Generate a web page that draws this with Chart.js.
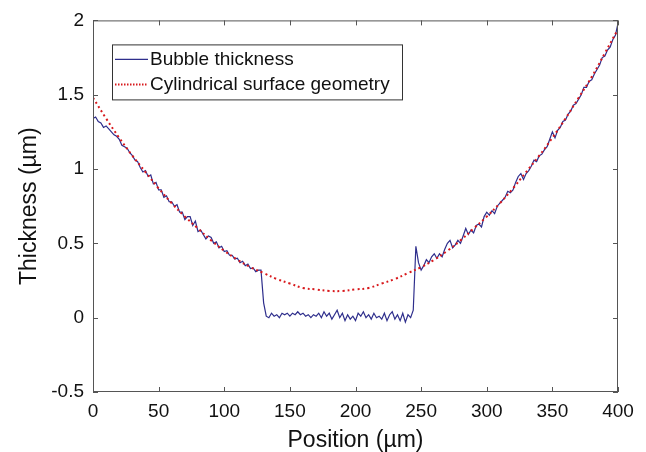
<!DOCTYPE html>
<html>
<head>
<meta charset="utf-8">
<script src="https://cdn.jsdelivr.net/npm/chart.js@4.4.1/dist/chart.umd.min.js"></script>
<style>
  html, body { margin: 0; padding: 0; background: #fff; }
  #wrap { width: 646px; height: 452px; }
</style>
</head>
<body>
<div id="wrap"><canvas id="thicknessChart" width="646" height="452"></canvas></div>
<script>
// Bubble thickness profile vs cylindrical surface fit

const FONT = "'Liberation Sans', Arial, sans-serif";
const AXIS_COLOR = '#555555';
const TEXT_COLOR = '#111111';

const X_TICKS = [0, 50, 100, 150, 200, 250, 300, 350, 400];
const Y_TICKS = [-0.5, 0, 0.5, 1, 1.5, 2];

const SERIES_NAMES = ['Bubble thickness', 'Cylindrical surface geometry'];

// measured profile, one sample every 2 µm
const bubblePositions = [
    0, 2, 4, 6, 8, 10, 12, 14, 16, 18, 20, 22, 24, 26, 28, 30, 32, 34, 36, 38,
    40, 42, 44, 46, 48, 50, 52, 54, 56, 58, 60, 62, 64, 66, 68, 70, 72, 74, 76, 78,
    80, 82, 84, 86, 88, 90, 92, 94, 96, 98, 100, 102, 104, 106, 108, 110, 112, 114, 116, 118,
    120, 122, 124, 126, 128, 130, 132, 134, 136, 138, 140, 142, 144, 146, 148, 150, 152, 154, 156, 158,
    160, 162, 164, 166, 168, 170, 172, 174, 176, 178, 180, 182, 184, 186, 188, 190, 192, 194, 196, 198,
    200, 202, 204, 206, 208, 210, 212, 214, 216, 218, 220, 222, 224, 226, 228, 230, 232, 234, 236, 238,
    240, 242, 244, 246, 248, 250, 252, 254, 256, 258, 260, 262, 264, 266, 268, 270, 272, 274, 276, 278,
    280, 282, 284, 286, 288, 290, 292, 294, 296, 298, 300, 302, 304, 306, 308, 310, 312, 314, 316, 318,
    320, 322, 324, 326, 328, 330, 332, 334, 336, 338, 340, 342, 344, 346, 348, 350, 352, 354, 356, 358,
    360, 362, 364, 366, 368, 370, 372, 374, 376, 378, 380, 382, 384, 386, 388, 390, 392, 394, 396, 398,
    400
];
const bubbleThickness = [
    1.34, 1.35, 1.32, 1.31, 1.28, 1.29, 1.27, 1.25, 1.23, 1.22, 1.20, 1.16, 1.15, 1.14, 1.11, 1.09, 1.06, 1.05, 1.01, 0.98,
    0.99, 0.95, 0.96, 0.90, 0.91, 0.86, 0.86, 0.81, 0.82, 0.78, 0.78, 0.75, 0.76, 0.71, 0.71, 0.66, 0.68, 0.68, 0.62, 0.65,
    0.58, 0.59, 0.56, 0.53, 0.55, 0.54, 0.50, 0.51, 0.47, 0.48, 0.445, 0.45, 0.42, 0.42, 0.395, 0.40, 0.37, 0.38, 0.35, 0.36,
    0.33, 0.335, 0.31, 0.32, 0.32, 0.10, 0.01, 0.00, 0.03, 0.01, 0.02, 0.00, 0.03, 0.02, 0.03, 0.01, 0.03, 0.02, 0.04, 0.02,
    0.03, 0.01, 0.02, 0.00, 0.02, 0.01, 0.03, 0.00, 0.04, 0.01, 0.03, -0.01, 0.02, 0.05, 0.00, 0.03, -0.02, 0.02, -0.01, 0.01,
    -0.02, 0.03, 0.01, 0.04, 0.00, 0.02, -0.01, 0.03, 0.00, 0.01, -0.01, 0.03, -0.02, 0.02, 0.04, -0.01, 0.02, -0.02, 0.03, -0.03,
    0.02, 0.00, 0.05, 0.48, 0.37, 0.32, 0.35, 0.39, 0.37, 0.41, 0.43, 0.40, 0.43, 0.41, 0.46, 0.50, 0.52, 0.47, 0.49, 0.52,
    0.50, 0.55, 0.60, 0.56, 0.59, 0.57, 0.62, 0.63, 0.61, 0.68, 0.71, 0.69, 0.72, 0.70, 0.75, 0.77, 0.79, 0.81, 0.85, 0.84,
    0.86, 0.91, 0.95, 0.97, 0.93, 0.97, 0.99, 1.02, 1.06, 1.05, 1.09, 1.10, 1.13, 1.15, 1.20, 1.25, 1.21, 1.26, 1.28, 1.32,
    1.33, 1.37, 1.39, 1.43, 1.44, 1.47, 1.50, 1.55, 1.55, 1.59, 1.60, 1.64, 1.67, 1.70, 1.75, 1.76, 1.80, 1.82, 1.87, 1.90,
    1.98
];

// fitted cylinder, one sample every 10 µm
const surfacePositions = [
    0, 10, 20, 30, 40, 50, 60, 70, 80, 90, 100, 110, 120, 130, 140, 150, 160, 170, 180, 190,
    200, 210, 220, 230, 240, 250, 260, 270, 280, 290, 300, 310, 320, 330, 340, 350, 360, 370, 380, 390,
    400
];
const surfaceThickness = [
    1.48, 1.34, 1.21, 1.09, 0.98, 0.87, 0.77, 0.68, 0.60, 0.52, 0.45, 0.39, 0.34, 0.30, 0.26, 0.23, 0.20, 0.19, 0.18, 0.18,
    0.19, 0.20, 0.23, 0.26, 0.30, 0.34, 0.39, 0.45, 0.52, 0.60, 0.68, 0.77, 0.87, 0.98, 1.09, 1.21, 1.34, 1.48, 1.62, 1.78,
    1.94
];

const BLUE = '#2e2e8c';
const RED = '#d8191c';
const TICK_LEN = 5;

const toPoints = (xs, ys) => xs.map((x, i) => ({ x: x, y: ys[i] }));

// box, inward ticks on all four sides, and the boxed legend
const matlabFrame = {
    id: 'matlabFrame',
    afterDatasetsDraw(chart) {
        const { ctx, chartArea: a, scales: { x, y } } = chart;
        ctx.save();
        ctx.strokeStyle = AXIS_COLOR;
        ctx.lineWidth = 1;
        ctx.strokeRect(a.left + 0.5, a.top + 0.5, a.right - a.left - 1, a.bottom - a.top - 1);

        ctx.beginPath();
        X_TICKS.forEach(v => {
            const px = Math.round(x.getPixelForValue(v)) + 0.5;
            ctx.moveTo(px, a.bottom); ctx.lineTo(px, a.bottom - TICK_LEN);
            ctx.moveTo(px, a.top); ctx.lineTo(px, a.top + TICK_LEN);
        });
        Y_TICKS.forEach(v => {
            const py = Math.round(y.getPixelForValue(v)) + 0.5;
            ctx.moveTo(a.left, py); ctx.lineTo(a.left + TICK_LEN, py);
            ctx.moveTo(a.right, py); ctx.lineTo(a.right - TICK_LEN, py);
        });
        ctx.stroke();

        // legend
        const lx = a.left + 19, ly = a.top + 24, lw = 290, lh = 55;
        ctx.fillStyle = '#fff';
        ctx.fillRect(lx, ly, lw, lh);
        ctx.strokeStyle = '#333';
        ctx.strokeRect(lx + 0.5, ly + 0.5, lw, lh);

        const rows = [ly + 15, ly + 40];
        ctx.lineWidth = 1.2;
        ctx.strokeStyle = BLUE;
        ctx.beginPath();
        ctx.moveTo(lx + 3, rows[0]); ctx.lineTo(lx + 36, rows[0]);
        ctx.stroke();
        ctx.lineWidth = 2;
        ctx.strokeStyle = RED;
        ctx.setLineDash([1.5, 1.5]);
        ctx.beginPath();
        ctx.moveTo(lx + 3, rows[1]); ctx.lineTo(lx + 36, rows[1]);
        ctx.stroke();
        ctx.setLineDash([]);

        ctx.fillStyle = TEXT_COLOR;
        ctx.font = '19px ' + FONT;
        ctx.textBaseline = 'middle';
        ctx.textAlign = 'left';
        ctx.fillText(SERIES_NAMES[0], lx + 38, rows[0]);
        ctx.fillText(SERIES_NAMES[1], lx + 38, rows[1]);
        ctx.restore();
    }
};

new Chart(document.getElementById('thicknessChart'), {
    type: 'line',
    data: {
        datasets: [
            {
                label: SERIES_NAMES[0],
                data: toPoints(bubblePositions, bubbleThickness),
                borderColor: BLUE,
                borderWidth: 1.2,
                pointRadius: 0,
                tension: 0,
                order: 2
            },
            {
                label: SERIES_NAMES[1],
                data: toPoints(surfacePositions, surfaceThickness),
                borderColor: RED,
                borderWidth: 2,
                borderDash: [2, 3],
                pointRadius: 0,
                tension: 0.4,
                order: 1
            }
        ]
    },
    options: {
        responsive: false,
        animation: false,
        layout: { padding: { top: 19, right: 28, left: 0, bottom: 0 } },
        plugins: {
            legend: { display: false },
            tooltip: { enabled: false }
        },
        scales: {
            x: {
                type: 'linear',
                min: 0,
                max: 400,
                afterBuildTicks: s => { s.ticks = X_TICKS.map(v => ({ value: v })); },
                afterFit: s => { s.height = 60; },
                grid: { display: false, drawTicks: false },
                border: { display: false },
                ticks: {
                    padding: 8,
                    color: TEXT_COLOR,
                    maxRotation: 0,
                    callback: v => String(v),
                    font: { family: FONT, size: 19 }
                },
                title: {
                    display: true,
                    text: 'Position (µm)',
                    color: TEXT_COLOR,
                    padding: { top: 0, bottom: 0 },
                    font: { family: FONT, size: 23, lineHeight: 1 }
                }
            },
            y: {
                type: 'linear',
                min: -0.5,
                max: 2,
                afterBuildTicks: s => { s.ticks = Y_TICKS.map(v => ({ value: v })); },
                afterFit: s => { s.width = 93; },
                grid: { display: false, drawTicks: false },
                border: { display: false },
                ticks: {
                    padding: 9,
                    color: TEXT_COLOR,
                    callback: v => String(v),
                    font: { family: FONT, size: 19 }
                },
                title: {
                    display: true,
                    text: 'Thickness (µm)',
                    color: TEXT_COLOR,
                    padding: { top: 18, bottom: 0 },
                    font: { family: FONT, size: 23, lineHeight: 1 }
                }
            }
        }
    },
    plugins: [matlabFrame]
});
</script>
</body>
</html>
